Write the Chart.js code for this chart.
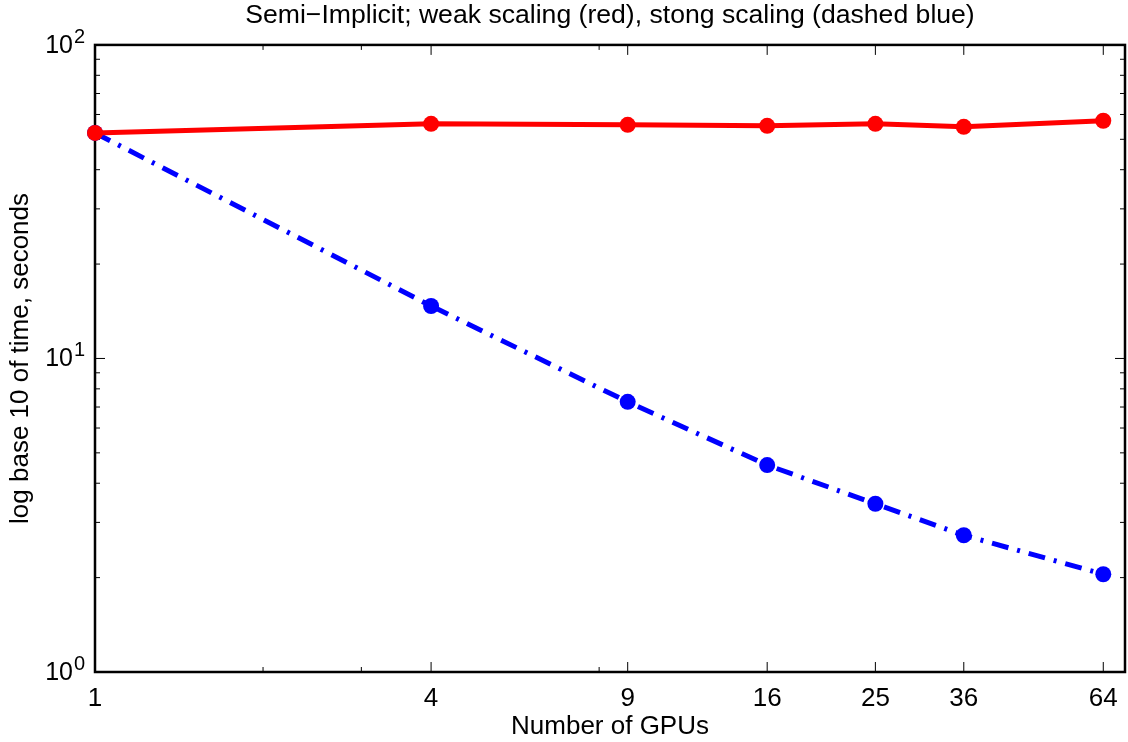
<!DOCTYPE html>
<html>
<head>
<meta charset="utf-8">
<script src="https://cdn.jsdelivr.net/npm/chart.js@4.4.1/dist/chart.umd.min.js"></script>
<style>
  html, body { margin: 0; padding: 0; background: #fff; }
  #wrap { width: 1128px; height: 742px; }
</style>
</head>
<body>
<div id="wrap"><canvas id="c"></canvas></div>
<script>
// GPU counts and timings (seconds)
const gpus        = [1, 4, 9, 16, 25, 36, 64];
const weakTimes   = [52.4, 56.0, 55.6, 55.2, 56.0, 54.8, 57.3];
const strongTimes = [52.4, 14.7, 7.27, 4.57, 3.44, 2.73, 2.05];

const xTicks      = [1, 4, 9, 16, 25, 36, 64];
const xMinorTicks = [2, 3, 8];
const yTicks      = [1, 10, 100];
const yMinorTicks = [2, 3, 4, 5, 6, 7, 8, 9, 20, 30, 40, 50, 60, 70, 80, 90];

const FONT = "'Liberation Sans', Arial, Helvetica, sans-serif";

Chart.defaults.font.family = FONT;
Chart.defaults.color = '#000';

/** matlab-style box with inward ticks + 10^n labels */
const matlabAxes = {
  id: 'matlabAxes',
  beforeDatasetsDraw(chart) {
    const { ctx, chartArea: a, scales: { x, y } } = chart;
    ctx.save();
    ctx.strokeStyle = '#000';
    ctx.lineWidth = 1;
    const tick = (px, len, vertical) => {
      ctx.beginPath();
      if (vertical) {
        ctx.moveTo(px, a.bottom); ctx.lineTo(px, a.bottom - len);
        ctx.moveTo(px, a.top);    ctx.lineTo(px, a.top + len);
      } else {
        ctx.moveTo(a.left, px);  ctx.lineTo(a.left + len, px);
        ctx.moveTo(a.right, px); ctx.lineTo(a.right - len, px);
      }
      ctx.stroke();
    };
    xTicks.forEach(v => tick(x.getPixelForValue(v), 10, true));
    xMinorTicks.forEach(v => tick(x.getPixelForValue(v), 5, true));
    yTicks.forEach(v => tick(y.getPixelForValue(v), 10, false));
    yMinorTicks.forEach(v => tick(y.getPixelForValue(v), 5, false));

    ctx.lineWidth = 2.5;
    ctx.strokeRect(a.left, a.top, a.right - a.left, a.bottom - a.top);

    // y labels as 10 + superscript exponent
    ctx.fillStyle = '#000';
    yTicks.forEach(v => {
      const py = y.getPixelForValue(v);
      const exp = String(Math.round(Math.log10(v)));
      ctx.font = `25px ${FONT}`;
      ctx.textAlign = 'right';
      ctx.textBaseline = 'middle';
      ctx.fillText('10', 73, py + 1);
      ctx.font = `20px ${FONT}`;
      ctx.textAlign = 'left';
      ctx.textBaseline = 'alphabetic';
      ctx.fillText(exp, 74, py - 2);
    });
    ctx.restore();
  },
};

new Chart(document.getElementById('c'), {
  type: 'line',
  data: {
    datasets: [
      {
        label: 'weak scaling',
        data: gpus.map((g, i) => ({ x: g, y: weakTimes[i] })),
        borderColor: '#ff0000',
        backgroundColor: '#ff0000',
        borderWidth: 5,
        pointRadius: 8,
        pointBorderWidth: 0,
        tension: 0,
        clip: false,
      },
      {
        label: 'strong scaling',
        data: gpus.map((g, i) => ({ x: g, y: strongTimes[i] })),
        borderColor: '#0000ff',
        backgroundColor: '#0000ff',
        borderWidth: 5,
        borderDash: [17, 9, 3, 9],
        borderCapStyle: 'butt',
        pointRadius: 8,
        pointBorderWidth: 0,
        tension: 0,
        clip: false,
      },
    ],
  },
  options: {
    responsive: true,
    maintainAspectRatio: false,
    animation: false,
    layout: { autoPadding: false, padding: { left: 0, right: 3, top: 0, bottom: 0 } },
    plugins: {
      legend: { display: false },
      tooltip: { enabled: false },
      title: {
        display: true,
        fullSize: false,
        text: 'Semi\u2212Implicit; weak scaling (red), stong scaling (dashed blue)',
        color: '#000',
        font: { size: 26.6, weight: 'normal' },
        padding: { top: 0, bottom: 13 },
      },
    },
    scales: {
      x: {
        type: 'logarithmic',
        min: 1,
        max: 70,
        afterBuildTicks: s => { s.ticks = xTicks.map(v => ({ value: v })); },
        afterFit: s => { s.height = 70; s.paddingLeft = 0; s.paddingRight = 0; },
        grid: { display: false },
        border: { display: false },
        ticks: {
          font: { size: 26 },
          color: '#000',
          padding: 3,
          maxRotation: 0,
          autoSkip: false,
          callback: v => String(v),
        },
        title: {
          display: true,
          text: 'Number of GPUs',
          color: '#000',
          font: { size: 26 },
          padding: { top: 0, bottom: 0 },
        },
      },
      y: {
        type: 'logarithmic',
        min: 1,
        max: 100,
        afterBuildTicks: s => { s.ticks = yTicks.map(v => ({ value: v })); },
        afterFit: s => { s.width = 95; s.paddingTop = 0; s.paddingBottom = 0; },
        grid: { display: false },
        border: { display: false },
        ticks: { display: false },
        title: {
          display: true,
          text: 'log base 10 of time, seconds',
          color: '#000',
          font: { size: 26 },
          padding: { top: 5, bottom: 0 },
        },
      },
    },
  },
  plugins: [matlabAxes],
});
</script>
</body>
</html>
